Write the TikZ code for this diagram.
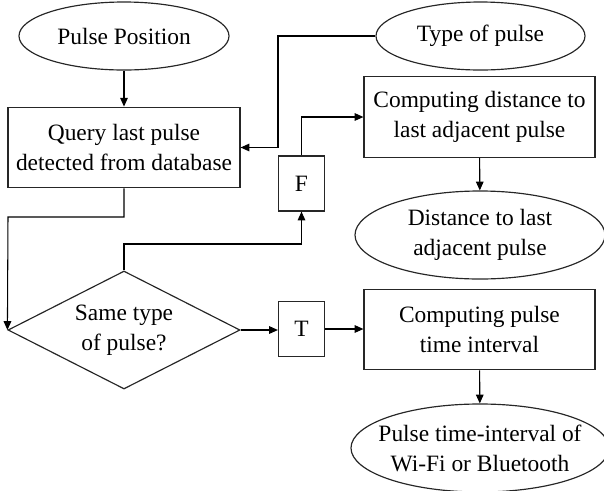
\documentclass[tikz,border=0pt]{standalone}
\usepackage{fontspec}
\setmainfont{Liberation Serif}
\usetikzlibrary{shapes.geometric,arrows.meta}

\begin{document}
\begin{tikzpicture}[x=0.03cm,y=-0.03cm]

\tikzset{
	base/.style={draw=black!85,line width=1pt,align=center,inner sep=0pt,
	font=\fontsize{20}{25.6}\selectfont},
	oval/.style={base,ellipse,minimum width=#1},
	oval/.default={6.3cm},
	block/.style={base,rectangle,minimum width=6.93cm,minimum height=2.42cm},
	flag/.style={base,rectangle,minimum width=1.38cm,minimum height=1.65cm},
	test/.style={base,diamond,aspect=1.97,minimum width=6.96cm,minimum height=3.54cm},
	arr/.style={black,line width=0.9pt,-{Triangle[length=7.5pt,width=6.5pt]}}
}
\useasboundingbox (0,0) rectangle (604,490);

%INPUTS
\node[oval,minimum height=2.04cm] (pos) at (124,36) {Pulse Position};
\node[oval=6.27cm,minimum height=2.04cm] (type) at (480.5,36) {Type of pulse};

%LEFT COLUMN
\node[block,minimum width=6.96cm] (query) at (124,147.5) {Query last pulse\\detected from database};
\node[test] (same) at (124,330) {Same type\\of pulse?};

%F / T
\node[flag] (false) at (301.5,183.5) {F};
\node[flag] (true) at (301.5,329) {T};

%RIGHT COLUMN
\node[block] (cdist) at (479.5,117) {Computing distance to\\last adjacent pulse};
\node[oval=7.5cm,minimum height=2.64cm] (dist) at (480,235) {Distance to last\\adjacent pulse};
\node[block] (cint) at (479.5,329.5) {Computing pulse\\time interval};
\node[oval=7.74cm,minimum height=2.64cm,inner xsep=-9pt] (wifi) at (480,448) {Pulse time-interval of\\Wi-Fi or Bluetooth};

\coordinate (j1) at (278,147.5);
\coordinate (j2) at (8,217);
\coordinate (j3) at (301.5,244);

\draw[arr] (pos) -- (query);
\draw[arr] (type.west) -| (j1) -- (query.east);
\draw[arr] (query.south) |- (j2) -- (same.west);
\draw[arr] (same.north) |- (j3) -- (false.south);
\draw[arr] (false.north) |- (cdist.west);
\draw[arr] (same.east) -- (true.west |- same.east);
\draw[arr] (true.east) -- (cint.west |- true.east);
\draw[arr] (cdist) -- (dist);
\draw[arr] (cint) -- (wifi);
\end{tikzpicture}
\end{document}
